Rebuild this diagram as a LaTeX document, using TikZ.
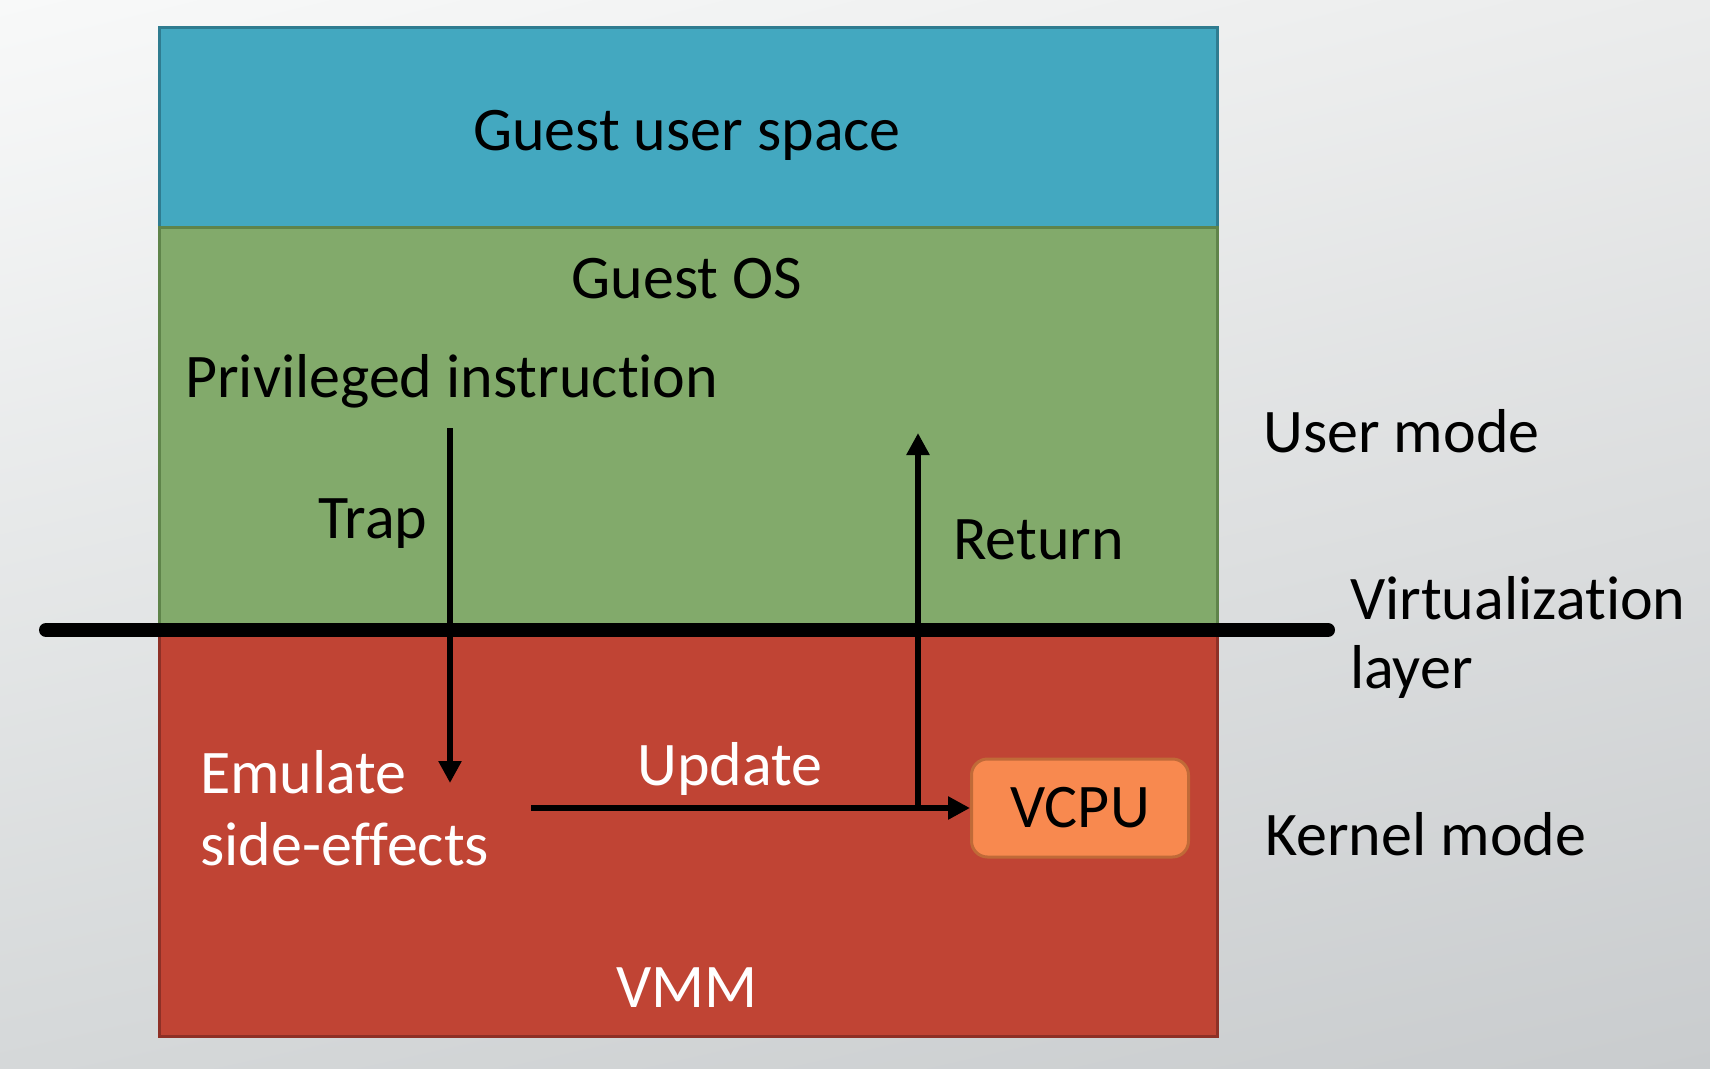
\documentclass[tikz,border=0pt]{standalone}
\usepackage{fontspec}
\setmainfont{Carlito}[Ligatures=NoCommon]
\usetikzlibrary{arrows.meta,shadings}
\definecolor{bgA}{HTML}{F8F9F9}
\definecolor{bgB}{HTML}{EBECEC}
\definecolor{bgC}{HTML}{D5D8D9}
\definecolor{bgD}{HTML}{C9CCCE}
\definecolor{bluefill}{HTML}{43A8C0}
\definecolor{blueline}{HTML}{2F7C90}
\definecolor{greenfill}{HTML}{82AA6B}
\definecolor{greenline}{HTML}{5F844A}
\definecolor{redfill}{HTML}{C04434}
\definecolor{redline}{HTML}{8E3026}
\definecolor{orangefill}{HTML}{F8894F}
\definecolor{orangeline}{HTML}{C06A38}
\tikzset{
  big/.style={font=\fontsize{62}{72}\selectfont, inner sep=0pt},
  layerbox/.style={line width=3pt},
  flow/.style={line width=6pt, -{Triangle[width=22pt,length=22pt]}},
}
\begin{document}
\begin{tikzpicture}[x=1pt,y=-1pt]
\useasboundingbox (0,0) rectangle (1710,1068);
\shade[upper left=bgA, upper right=bgB, lower left=bgC, lower right=bgD] (0,0) rectangle (1710,1068);

% layers
\path[layerbox, fill=bluefill, draw=blueline] (159,27) rectangle (1217,227);
\path[layerbox, fill=greenfill, draw=greenline] (159,227) rectangle (1217,630);
\path[layerbox, fill=redfill, draw=redline] (159,630) rectangle (1217,1036);

% virtualization line
\coordinate (vl) at (46,630);
\coordinate (vr) at (1328,630);
\draw[line width=14pt, line cap=round] (vl) -- (vr);

% texts
\node[big] (gus) at (687,135) {Guest user space};
\node[big] (gos) at (687,279) {Guest OS};
\node[big, anchor=west] (priv) at (185,381) {Privileged instruction};
\node[big] (trap) at (373,524) {Trap};
\node[big, anchor=west] (ret) at (953,540) {Return};
\node[big, text=white] (upd) at (730,769) {Update};
\node[big, text=white, anchor=west] (emu) at (200,772) {Emulate};
\node[big, text=white, anchor=west] (side) at (200,844) {side-effects};
\node[big, text=white] (vmm) at (687,988) {VMM};
\node[big, anchor=west] (umode) at (1263,431) {User mode};
\node[big, anchor=west] (virt) at (1350,598) {Virtualization};
\node[big, anchor=west] (layer) at (1350,672) {layer};
\node[big, anchor=west] (kmode) at (1265,834) {Kernel mode};

% VCPU
\node[big, draw=orangeline, fill=orangefill, line width=3pt, rounded corners=16pt,
      minimum width=217pt, minimum height=98pt] (vcpu) at (1080,808) {VCPU};

% arrows
\coordinate (trapA) at (450,428);
\coordinate (trapB) at (450,783);
\draw[flow] (trapA) -- (trapB);
\coordinate (updA) at (531,808);
\draw[flow] (updA) -- (vcpu.west);
\coordinate (retA) at (918,808);
\coordinate (retB) at (918,433);
\draw[flow] (retA) -- (retB);
\end{tikzpicture}
\end{document}
